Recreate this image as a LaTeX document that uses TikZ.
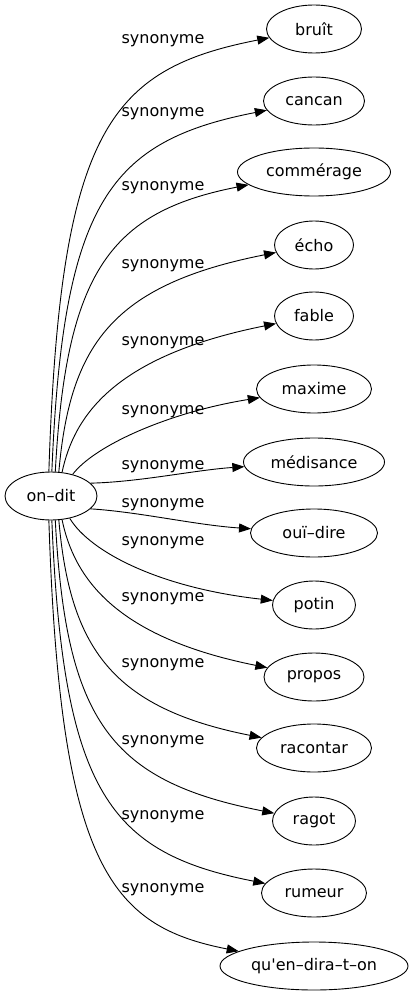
\documentclass[tikz,border=0pt]{standalone}
\usepackage{fontspec}
\newfontfamily\graphfont{DejaVu Sans}
\usetikzlibrary{arrows.meta,shapes.geometric}

\begin{document}
\begin{tikzpicture}[x=1pt, y=-1pt,
    word/.style={ellipse, draw, line width=0.9pt, minimum height=48pt, inner sep=0pt, font=\graphfont\fontsize{16}{19}\selectfont},
    rel/.style={inner sep=0pt, font=\graphfont\fontsize{16}{19}\selectfont},
    arrow/.style={-{Triangle[length=12pt, width=9pt]}, line width=0.9pt}
]
\useasboundingbox (0,0) rectangle (413,995);

% Source word
\node[word, minimum width=92pt] (ondit) at (51,496) {on–dit};

% Synonyms
\node[word, minimum width=95pt] (bruit) at (314,29) {bruît};
\node[word, minimum width=101pt] (cancan) at (314,101) {cancan};
\node[word, minimum width=153pt] (commerage) at (314,172) {commérage};
\node[word, minimum width=79pt] (echo) at (314,245) {écho};
\node[word, minimum width=79pt] (fable) at (314,316) {fable};
\node[word, minimum width=115pt] (maxime) at (314,389) {maxime};
\node[word, minimum width=141pt] (medisance) at (314,462) {médisance};
\node[word, minimum width=127pt] (ouidire) at (314,533) {ouï–dire};
\node[word, minimum width=83pt] (potin) at (314,605) {potin};
\node[word, minimum width=100pt] (propos) at (314,677) {propos};
\node[word, minimum width=115pt] (racontar) at (314,748) {racontar};
\node[word, minimum width=83pt] (ragot) at (314,821) {ragot};
\node[word, minimum width=105pt] (rumeur) at (314,893) {rumeur};
\node[word, minimum width=188pt] (quendiraton) at (314,966) {qu'en–dira–t–on};

% Edges with their labels
\foreach \target/\sa/\ax/\ay/\bx/\by/\ly in {
    bruit/95/60/129/110/69/41, cancan/88/63/201/110/141/114,
    commerage/80/66/272/110/212/188, echo/72/70/345/112/285/266,
    fable/65/74/416/114/356/343, maxime/45/95/445/170/412/412,
    medisance/18/140/482/195/470/467, ouidire/-18/140/512/195/525/505,
    potin/-50/90/552/160/588/543, propos/-65/74/577/114/637/599,
    racontar/-72/70/648/112/708/665, ragot/-80/66/721/110/781/742,
    rumeur/-88/63/793/110/853/817, quendiraton/-95/60/866/110/926/890} {
  \draw[arrow] (ondit.\sa) .. controls (\ax,\ay) and (\bx,\by) .. (\target);
  \node[rel] (lab\target) at (163,\ly) {synonyme};
}

\end{tikzpicture}
\end{document}
